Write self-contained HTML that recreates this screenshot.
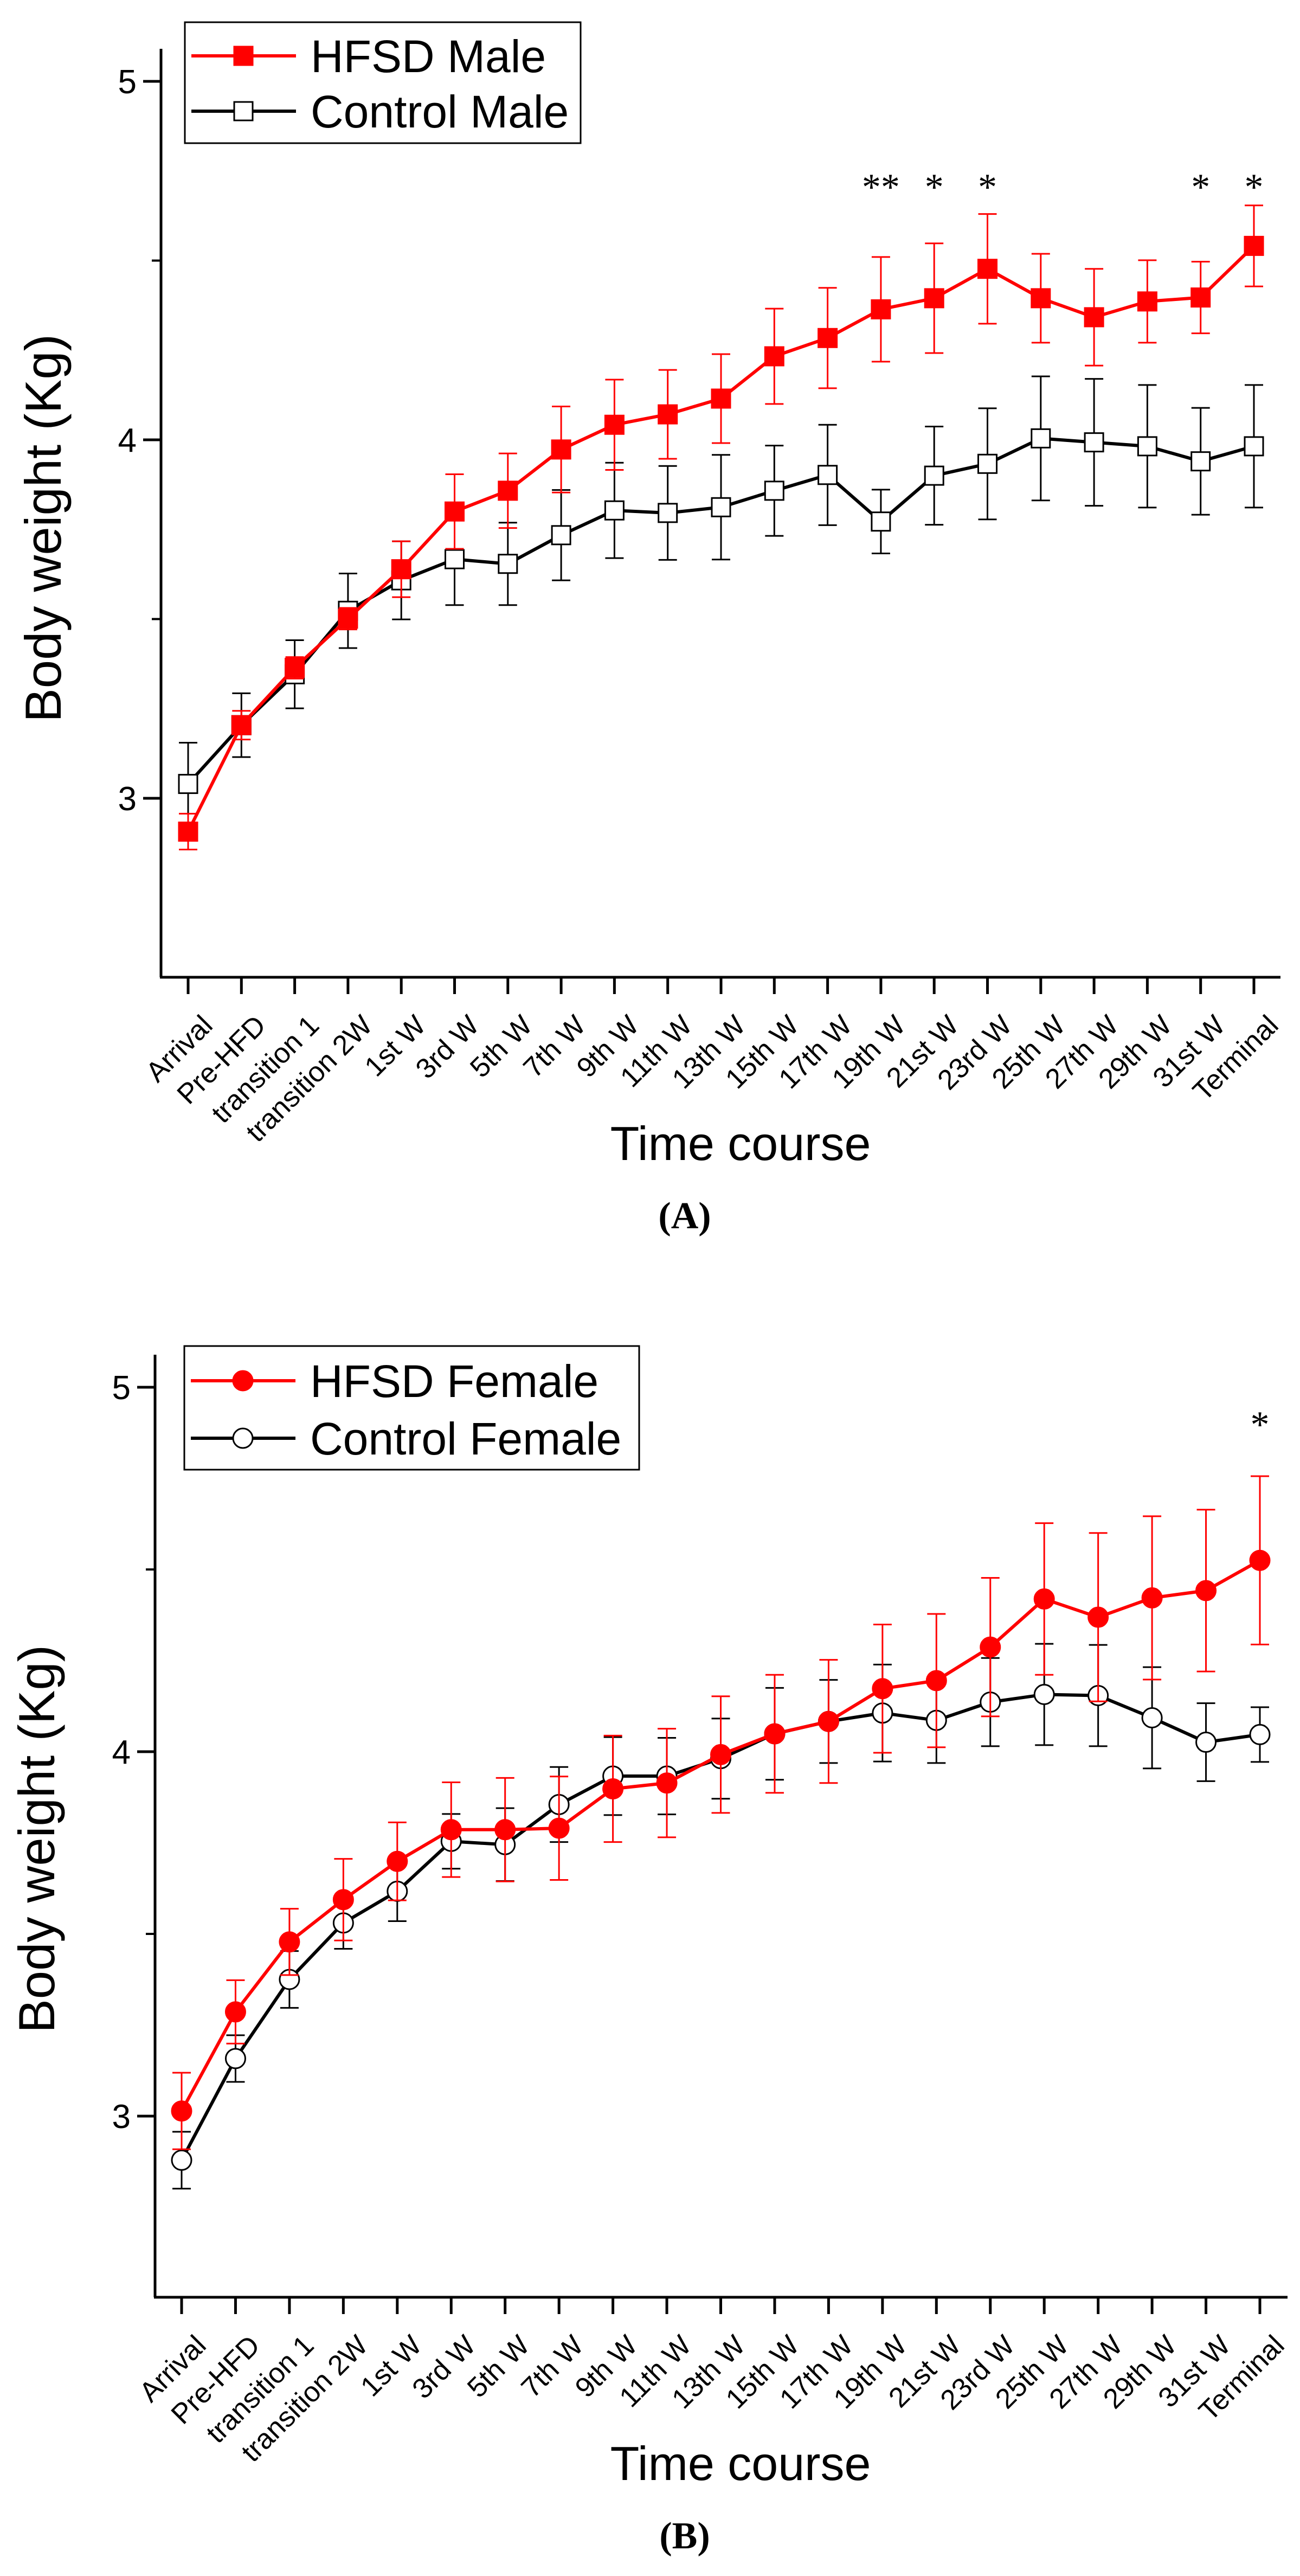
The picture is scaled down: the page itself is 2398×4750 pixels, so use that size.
<!DOCTYPE html>
<html><head><meta charset="utf-8">
<style>
html,body{margin:0;padding:0;background:#fff;}
svg{display:block;font-family:"Liberation Sans",Arial,sans-serif;}
</style></head>
<body>
<svg id="fig" width="2398" height="4750" viewBox="0 0 2398 4750" xmlns="http://www.w3.org/2000/svg">
<rect width="2398" height="4750" fill="#fff"/>
</svg>
<script>
const categories = ["Arrival","Pre-HFD","transition 1","transition 2W","1st W","3rd W","5th W","7th W","9th W","11th W","13th W","15th W","17th W","19th W","21st W","23rd W","25th W","27th W","29th W","31st W","Terminal"];
const yTicks = [3,4,5];
const yMinor = [3.5,4.5];

const hfsdMale = [2.907,3.204,3.364,3.501,3.639,3.80,3.858,3.973,4.042,4.071,4.115,4.233,4.284,4.364,4.395,4.477,4.395,4.342,4.386,4.397,4.541];
const hfsdMaleErr = [0.05,0.04,0.03,0.03,0.078,0.104,0.104,0.12,0.126,0.124,0.124,0.133,0.14,0.146,0.153,0.153,0.124,0.135,0.115,0.10,0.113];
const ctrlMale = [3.04,3.204,3.346,3.523,3.608,3.667,3.654,3.734,3.803,3.796,3.812,3.858,3.902,3.772,3.90,3.933,4.004,3.993,3.982,3.94,3.982];
const ctrlMaleErr = [0.115,0.089,0.095,0.104,0.109,0.128,0.115,0.126,0.133,0.131,0.146,0.126,0.14,0.089,0.137,0.155,0.173,0.177,0.171,0.149,0.171];
const maleStars = ["","","","","","","","","","","","","","**","*","*","","","","*","*"];

const hfsdFemale = [3.014,3.286,3.478,3.594,3.699,3.786,3.786,3.79,3.898,3.914,3.992,4.049,4.083,4.173,4.195,4.287,4.419,4.369,4.422,4.442,4.525];
const hfsdFemaleErr = [0.105,0.087,0.091,0.112,0.107,0.13,0.142,0.142,0.146,0.149,0.16,0.162,0.169,0.176,0.183,0.19,0.208,0.231,0.224,0.222,0.231];
const ctrlFemale = [2.879,3.158,3.375,3.53,3.617,3.754,3.745,3.855,3.933,3.933,3.981,4.049,4.083,4.106,4.086,4.136,4.157,4.154,4.093,4.026,4.047];
const ctrlFemaleErr = [0.078,0.064,0.078,0.071,0.082,0.075,0.10,0.103,0.107,0.105,0.11,0.126,0.114,0.133,0.117,0.121,0.139,0.139,0.139,0.107,0.075];
const femaleStars = ["","","","","","","","","","","","","","","","","","","","","*"];

const NS="http://www.w3.org/2000/svg";
const svg=document.getElementById('fig');
function mk(tag,attrs,parent){const e=document.createElementNS(NS,tag);for(const k in attrs)e.setAttribute(k,attrs[k]);(parent||svg).appendChild(e);return e;}

function drawChart(cfg){
  const g=mk('g',{});
  
  
  const yScale=v=>cfg.y5+(5-v)*(cfg.y4-cfg.y5);
  const xScale=i=>cfg.x0+i*(cfg.x1-cfg.x0)/(categories.length-1);
  const ax=mk('line',{x1:cfg.ax,y1:cfg.y5-60,x2:cfg.ax,y2:cfg.yb,stroke:'#000','stroke-width':5},g);
  
  
  const bx=mk('line',{x1:cfg.ax-2,y1:cfg.yb,x2:cfg.xr,y2:cfg.yb,stroke:'#000','stroke-width':5},g);
  
  
  yTicks.forEach(v=>{
    const y=yScale(v);
    mk('line',{x1:cfg.ax-33,y1:y,x2:cfg.ax,y2:y,stroke:'#000','stroke-width':5},g);
    const t=mk('text',{x:cfg.ax-45,y:y+22,'font-size':62,'text-anchor':'end'},g);
    t.textContent=v;
    
    
  });
  yMinor.forEach(v=>{const y=yScale(v);mk('line',{x1:cfg.ax-17,y1:y,x2:cfg.ax,y2:y,stroke:'#000','stroke-width':4},g);});
  categories.forEach((c,i)=>{
    const x=xScale(i);
    mk('line',{x1:x,y1:cfg.yb,x2:x,y2:cfg.yb+31,stroke:'#000','stroke-width':5},g);
    const t=mk('text',{x:x+48,y:cfg.yb+92,'font-size':52,'text-anchor':'end',transform:`rotate(-45 ${x+48} ${cfg.yb+92})`},g);
    t.textContent=c;
    
    
  });
  const yt=mk('text',{x:0,y:0,'font-size':94,'text-anchor':'middle',transform:`translate(${cfg.ytx} ${cfg.ytY}) rotate(-90)`},g);
  yt.textContent='Body weight (Kg)';
  
  
  const xt=mk('text',{x:1366,y:cfg.yb+337,'font-size':88,'text-anchor':'middle'},g);
  xt.textContent='Time course';
  
  
  const cap=mk('text',{x:1263,y:cfg.yb+463,'font-size':70,'font-weight':'bold','text-anchor':'middle','font-family':'"Liberation Serif",serif'},g);
  cap.textContent=cfg.caption;
  
  

  function series(vals,errs,color,marker,filled,name){
    const sg=mk('g',{},g);
    
    
    vals.forEach((v,i)=>{
      const x=xScale(i),y1=yScale(v+errs[i]),y2=yScale(v-errs[i]);
      const eb=mk('path',{d:`M${x} ${y1}V${y2}M${x-17} ${y1}H${x+17}M${x-17} ${y2}H${x+17}`,stroke:color,'stroke-width':3,fill:'none'},sg);
      
      
    });
    const pts=vals.map((v,i)=>xScale(i)+','+yScale(v)).join(' ');
    const pl=mk('polyline',{points:pts,fill:'none',stroke:color,'stroke-width':6,'stroke-linejoin':'round'},sg);
    
    
    vals.forEach((v,i)=>{
      const x=xScale(i),y=yScale(v);
      let m;
      if(marker==='sq') m=mk('rect',{x:x-17,y:y-17,width:34,height:34,fill:filled?color:'#fff',stroke:color,'stroke-width':3},sg);
      else m=mk('circle',{cx:x,cy:y,r:18,fill:filled?color:'#fff',stroke:color,'stroke-width':3},sg);
      
      
    });
  }
  series(cfg.ctrl,cfg.ctrlErr,'#000',cfg.marker,false,'control-series');
  series(cfg.hfsd,cfg.hfsdErr,'#ff0000',cfg.marker,true,'hfsd-series');
  cfg.stars.forEach((s,i)=>{
    if(!s)return;
    const t=mk('text',{x:xScale(i),y:cfg.starY,'font-size':70,'text-anchor':'middle','font-family':'"Liberation Serif",serif'},g);
    t.textContent=s;
    
    
  });
  const lg=mk('g',{},g);
  
  
  mk('rect',{x:cfg.lx,y:cfg.ly,width:cfg.lw,height:cfg.lh,fill:'#fff',stroke:'#000','stroke-width':3},lg);
  [[cfg.hfsdLabel,'#ff0000',true],[cfg.ctrlLabel,'#000',false]].forEach((e,k)=>{
    const cy=cfg.ly+cfg.lfirst+k*cfg.lstep;
    const le=mk('g',{},lg);
    
    
    mk('line',{x1:cfg.lx+12,y1:cy,x2:cfg.lx+205,y2:cy,stroke:e[1],'stroke-width':6},le);
    if(cfg.marker==='sq') mk('rect',{x:cfg.lx+91,y:cy-17,width:34,height:34,fill:e[2]?e[1]:'#fff',stroke:e[1],'stroke-width':3},le);
    else mk('circle',{cx:cfg.lx+108,cy:cy,r:18,fill:e[2]?e[1]:'#fff',stroke:e[1],'stroke-width':3},le);
    const t=mk('text',{x:cfg.lx+232,y:cy+30,'font-size':84},le);
    t.textContent=e[0];
  });
}

drawChart({name:'chart-a-male',ax:297,y5:150,y4:811,yb:1802,x0:347,x1:2313,xr:2362,
  ytx:112,ytY:974,caption:'(A)',
  hfsd:hfsdMale,hfsdErr:hfsdMaleErr,ctrl:ctrlMale,ctrlErr:ctrlMaleErr,stars:maleStars,starY:368,
  marker:'sq',lx:341,ly:41,lw:730,lh:223,lfirst:62,lstep:102,hfsdLabel:'HFSD Male',ctrlLabel:'Control Male'});
drawChart({name:'chart-b-female',ax:286,y5:2558,y4:3230,yb:4236,x0:335,x1:2324,xr:2375,
  ytx:100,ytY:3391,caption:'(B)',
  hfsd:hfsdFemale,hfsdErr:hfsdFemaleErr,ctrl:ctrlFemale,ctrlErr:ctrlFemaleErr,stars:femaleStars,starY:2650,
  marker:'ci',lx:340,ly:2482,lw:839,lh:228,lfirst:64,lstep:106,hfsdLabel:'HFSD Female',ctrlLabel:'Control Female'});
</script>
</body></html>
